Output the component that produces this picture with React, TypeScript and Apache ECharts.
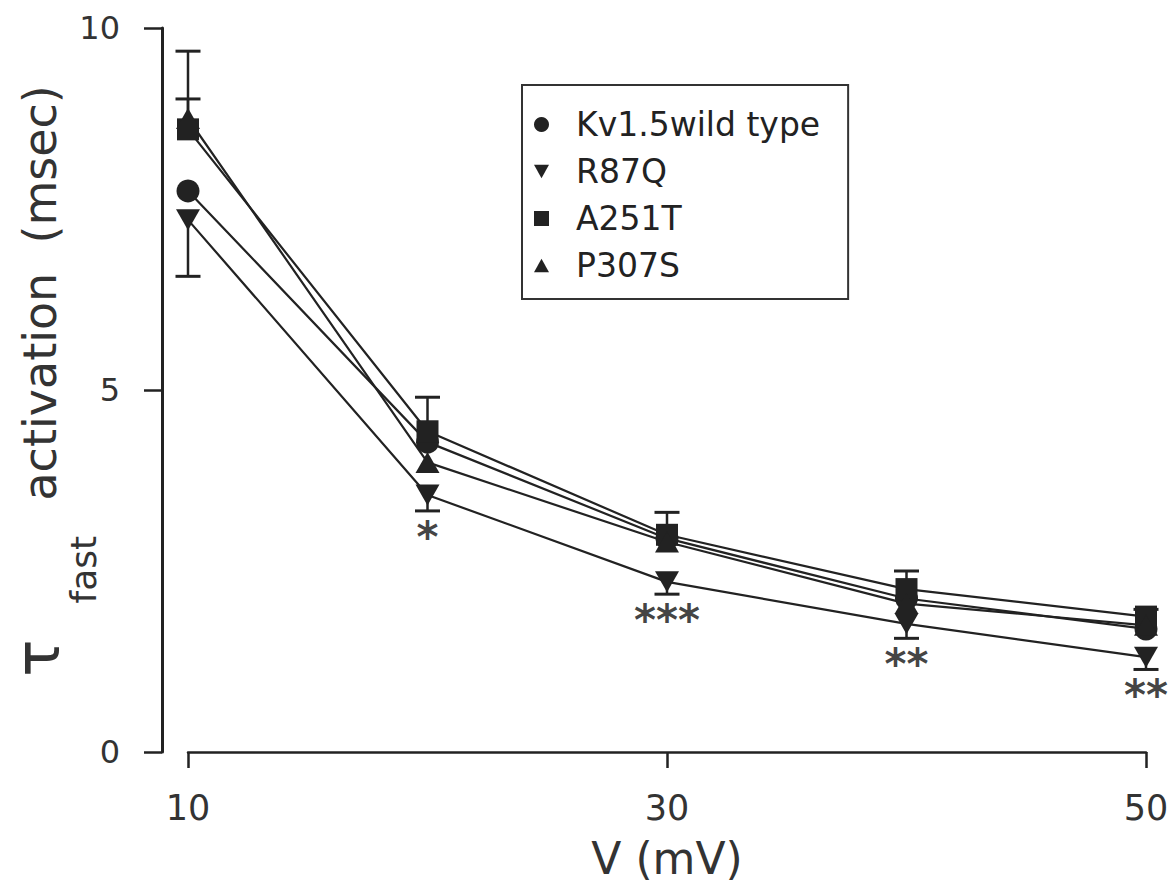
import React, { useEffect, useRef } from "react";
import * as echarts from "echarts";

const voltages = [10, 20, 30, 40, 50];
const seriesNames = ["Kv1.5wild type", "R87Q", "A251T", "P307S"];
const wtTau = [7.75, 4.28, 2.95, 2.12, 1.7];
const r87qTau = [7.35, 3.55, 2.35, 1.77, 1.31];
const a251tTau = [8.6, 4.43, 3.0, 2.25, 1.87];
const p307sTau = [8.75, 4.0, 2.9, 2.05, 1.75];
// signed error bars (positive = drawn upward, negative = drawn downward)
const a251tErr = [1.08, 0.47, 0.31, 0.25, 0.1];
const r87qErr = [-0.78, -0.22, -0.17, -0.2, -0.17];
const p307sErr = [0.27, 0, 0, 0, 0];
const significance = ["", "*", "***", "**", "**"];
const yTicks = [0, 5, 10];
const xTicks = [10, 30, 50];

const INK = "#222";
const FONT = "DejaVu Sans";

export default function App() {
  const ref = useRef<HTMLDivElement>(null);

  useEffect(() => {
    if (!ref.current) return;
    const chart = echarts.init(ref.current, undefined, { renderer: "svg" });

    const pairs = (ys: number[]) => voltages.map((v, i) => [v, ys[i]]);
    const errRows = (ys: number[], es: number[]) =>
      voltages.map((v, i) => [v, ys[i], es[i]]);

    const errorSeries = (ys: number[], es: number[]) => ({
      type: "custom",
      z: 1,
      silent: true,
      encode: { x: 0, y: 1 },
      data: errRows(ys, es),
      renderItem: (params: any, api: any) => {
        const x = api.value(0);
        const y = api.value(1);
        const e = api.value(2);
        if (!e) return { type: "group", children: [] };
        const p0 = api.coord([x, y]);
        const p1 = api.coord([x, y + e]);
        const w = 12.5;
        return {
          type: "group",
          children: [
            {
              type: "line",
              shape: { x1: p0[0], y1: p0[1], x2: p1[0], y2: p1[1] },
              style: { stroke: INK, lineWidth: 2.5 },
            },
            {
              type: "line",
              shape: { x1: p1[0] - w, y1: p1[1], x2: p1[0] + w, y2: p1[1] },
              style: { stroke: INK, lineWidth: 3 },
            },
          ],
        };
      },
    });

    const lineSeries = (name: string, ys: number[], symbol: string, size: any, rotate = 0) => ({
      name,
      type: "line",
      z: 3,
      data: pairs(ys),
      symbol,
      symbolSize: size,
      symbolRotate: rotate,
      showAllSymbol: true,
      lineStyle: { color: INK, width: 2.2 },
      itemStyle: { color: INK, borderWidth: 0 },
      emphasis: { disabled: true },
    });

    const tickLabelStyle = { color: "#333", fontFamily: FONT };

    chart.setOption({
      animation: false,
      backgroundColor: "#fff",
      grid: {
        left: 188,
        right: 26,
        top: 28,
        bottom: 142,
        containLabel: false,
        outerBoundsMode: "none",
      },
      legend: {
        left: 522,
        top: 85,
        orient: "vertical",
        padding: [23, 28, 17, 12],
        itemWidth: 15,
        itemHeight: 15,
        itemGap: 14,
        borderColor: "#333",
        borderWidth: 2,
        selectedMode: false,
        textStyle: { color: INK, fontFamily: FONT, fontSize: 33, padding: [0, 0, 0, 22] },
        data: [
          { name: seriesNames[0], icon: "circle" },
          { name: seriesNames[1], icon: "path://M0,0L10,0L5,9Z" },
          { name: seriesNames[2], icon: "rect" },
          { name: seriesNames[3], icon: "path://M5,0L10,9L0,9Z" },
        ],
      },
      xAxis: {
        type: "value",
        min: 10,
        max: 50,
        interval: 20,
        offset: 0,
        name: "V (mV)",
        nameLocation: "middle",
        nameGap: 84,
        nameMoveOverlap: false,
        nameTextStyle: { color: "#333", fontFamily: FONT, fontSize: 44 },
        axisLine: { show: true, onZero: false, lineStyle: { color: INK, width: 2.5 } },
        axisTick: { show: true, inside: false, length: 16, lineStyle: { color: INK, width: 2.5 } },
        axisLabel: {
          ...tickLabelStyle,
          fontSize: 35,
          margin: 38,
          customValues: xTicks,
        },
        splitLine: { show: false },
      },
      yAxis: {
        type: "value",
        min: 0,
        max: 10,
        interval: 5,
        offset: 26,
        name: "{tau|τ}{sub|fast}{main|  activation  (msec)}",
        nameLocation: "middle",
        nameRotate: 90,
        nameGap: 83,
        nameMoveOverlap: false,
        nameTextStyle: {
          color: "#333",
          fontFamily: FONT,
          padding: [0, 0, 0, 10],
          rich: {
            tau: { fontSize: 62, fontFamily: FONT, color: "#333", lineHeight: 62, padding: [0, 30, 22, 8] },
            sub: { fontSize: 36, fontFamily: FONT, color: "#333", lineHeight: 36, padding: [70, 6, 0, 6] },
            main: { fontSize: 46, fontFamily: FONT, color: "#333", lineHeight: 50, padding: [0, 0, 16, 0] },
          },
        },
        axisLine: { show: true, lineStyle: { color: INK, width: 3 } },
        axisTick: { show: true, inside: false, length: 18, lineStyle: { color: INK, width: 2.5 } },
        axisLabel: { ...tickLabelStyle, fontSize: 32, margin: 42, customValues: yTicks },
        splitLine: { show: false },
      },
      series: [
        errorSeries(a251tTau, a251tErr),
        errorSeries(r87qTau, r87qErr),
        errorSeries(p307sTau, p307sErr),
        lineSeries(seriesNames[0], wtTau, "circle", 23),
        lineSeries(seriesNames[1], r87qTau, "triangle", [24, 21], 180),
        lineSeries(seriesNames[2], a251tTau, "rect", 22),
        lineSeries(seriesNames[3], p307sTau, "triangle", [24, 21]),
        {
          type: "scatter",
          z: 4,
          silent: true,
          symbolSize: 1,
          itemStyle: { color: "rgba(0,0,0,0)" },
          data: voltages.map((v, i) => ({
            value: [v, r87qTau[i] + r87qErr[i]],
            label: {
              show: significance[i] !== "",
              formatter: significance[i],
              position: "bottom",
              distance: 5,
              color: "#111",
              fontFamily: FONT,
              fontWeight: "bold",
              fontSize: 42,
            },
          })),
        },
      ],
    });

    return () => chart.dispose();
  }, []);

  return (
    <div
      ref={ref}
      style={{ position: "fixed", left: 0, top: 0, width: 1172, height: 894, background: "#fff" }}
    />
  );
}
